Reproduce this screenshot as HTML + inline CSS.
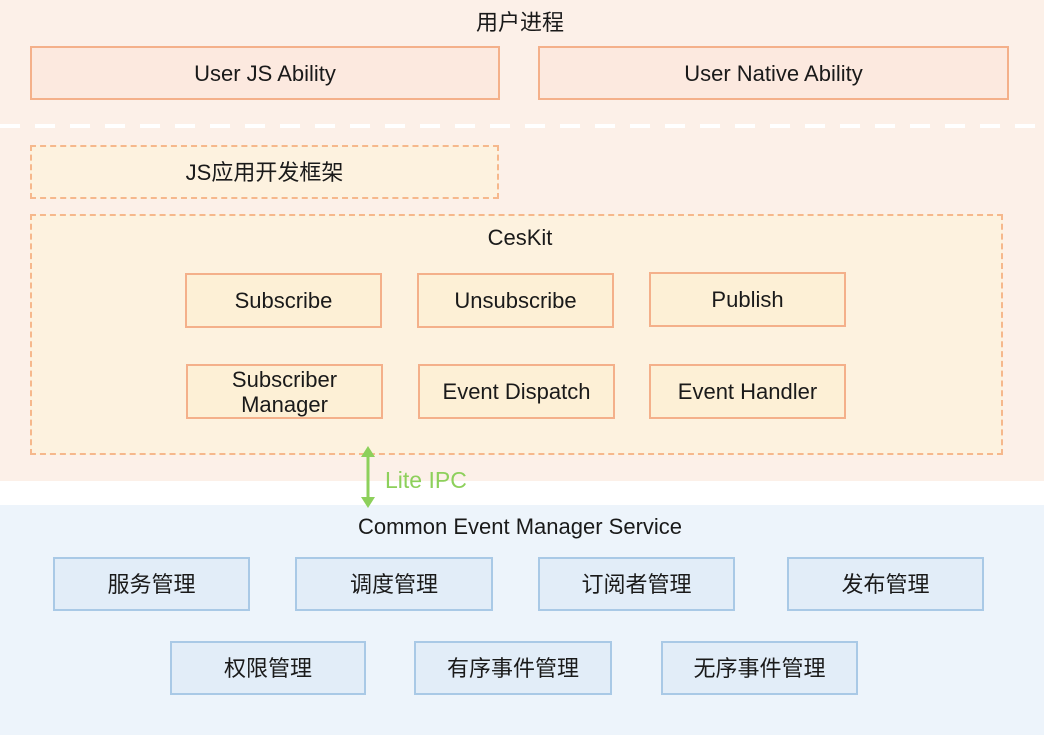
<!DOCTYPE html>
<html><head><meta charset="utf-8"><style>
*{margin:0;padding:0;box-sizing:border-box}
body{width:1044px;height:735px;position:relative;background:#fff;overflow:hidden;font-family:"Liberation Sans","Noto Sans CJK SC",sans-serif;color:#1a1a1a}
.a{position:absolute}
.b{position:absolute;display:flex;align-items:center;justify-content:center;text-align:center;font-size:22px;line-height:25px}
.u{background:#fce9df;border:2px solid #f4b08a}
.d{background:#fdf2df;border:2px dashed #f6b88c}
.o{background:#fdf0d6;border:2px solid #f4b08a}
.bl{background:#e2edf8;border:2px solid #a9c9e6}
</style></head><body>
<div class="a" style="left:0;top:0;width:1044px;height:481px;background:#fcf0e8"></div>
<div class="a" style="left:0;top:505px;width:1044px;height:230px;background:#edf4fb"></div>
<div class="a" style="left:0;top:124px;width:1044px;height:4px;background:repeating-linear-gradient(90deg,#fff 0 20px,transparent 20px 35px)"></div>
<div class="b" style="left:420px;top:8px;width:200px;height:28px">用户进程</div>
<div class="b u" style="left:30px;top:46px;width:470px;height:54px">User JS Ability</div>
<div class="b u" style="left:538px;top:46px;width:471px;height:54px">User Native Ability</div>
<div class="b d" style="left:30px;top:145px;width:469px;height:54px">JS应用开发框架</div>
<div class="a d" style="left:30px;top:214px;width:973px;height:241px"></div>
<div class="b" style="left:420px;top:224px;width:200px;height:26px">CesKit</div>
<div class="b o" style="left:185px;top:273px;width:197px;height:55px">Subscribe</div>
<div class="b o" style="left:417px;top:273px;width:197px;height:55px">Unsubscribe</div>
<div class="b o" style="left:649px;top:272px;width:197px;height:55px">Publish</div>
<div class="b o" style="left:186px;top:364px;width:197px;height:55px">Subscriber<br>Manager</div>
<div class="b o" style="left:418px;top:364px;width:197px;height:55px">Event Dispatch</div>
<div class="b o" style="left:649px;top:364px;width:197px;height:55px">Event Handler</div>
<svg class="a" style="left:358px;top:444px" width="22" height="68"><line x1="10" y1="10" x2="10" y2="56" stroke="#8dd05b" stroke-width="3"/><path d="M3 13 L10 2 L17 13Z M3 53 L10 64 L17 53Z" fill="#8dd05b"/></svg>
<div class="a" style="left:385px;top:467px;font-size:23px;color:#8dd05b">Lite IPC</div>
<div class="b" style="left:270px;top:512px;width:500px;height:28px">Common Event Manager Service</div>
<div class="b bl" style="left:53px;top:557px;width:197px;height:54px">服务管理</div>
<div class="b bl" style="left:295px;top:557px;width:198px;height:54px">调度管理</div>
<div class="b bl" style="left:538px;top:557px;width:197px;height:54px">订阅者管理</div>
<div class="b bl" style="left:787px;top:557px;width:197px;height:54px">发布管理</div>
<div class="b bl" style="left:170px;top:641px;width:196px;height:54px">权限管理</div>
<div class="b bl" style="left:414px;top:641px;width:198px;height:54px">有序事件管理</div>
<div class="b bl" style="left:661px;top:641px;width:197px;height:54px">无序事件管理</div>
</body></html>
